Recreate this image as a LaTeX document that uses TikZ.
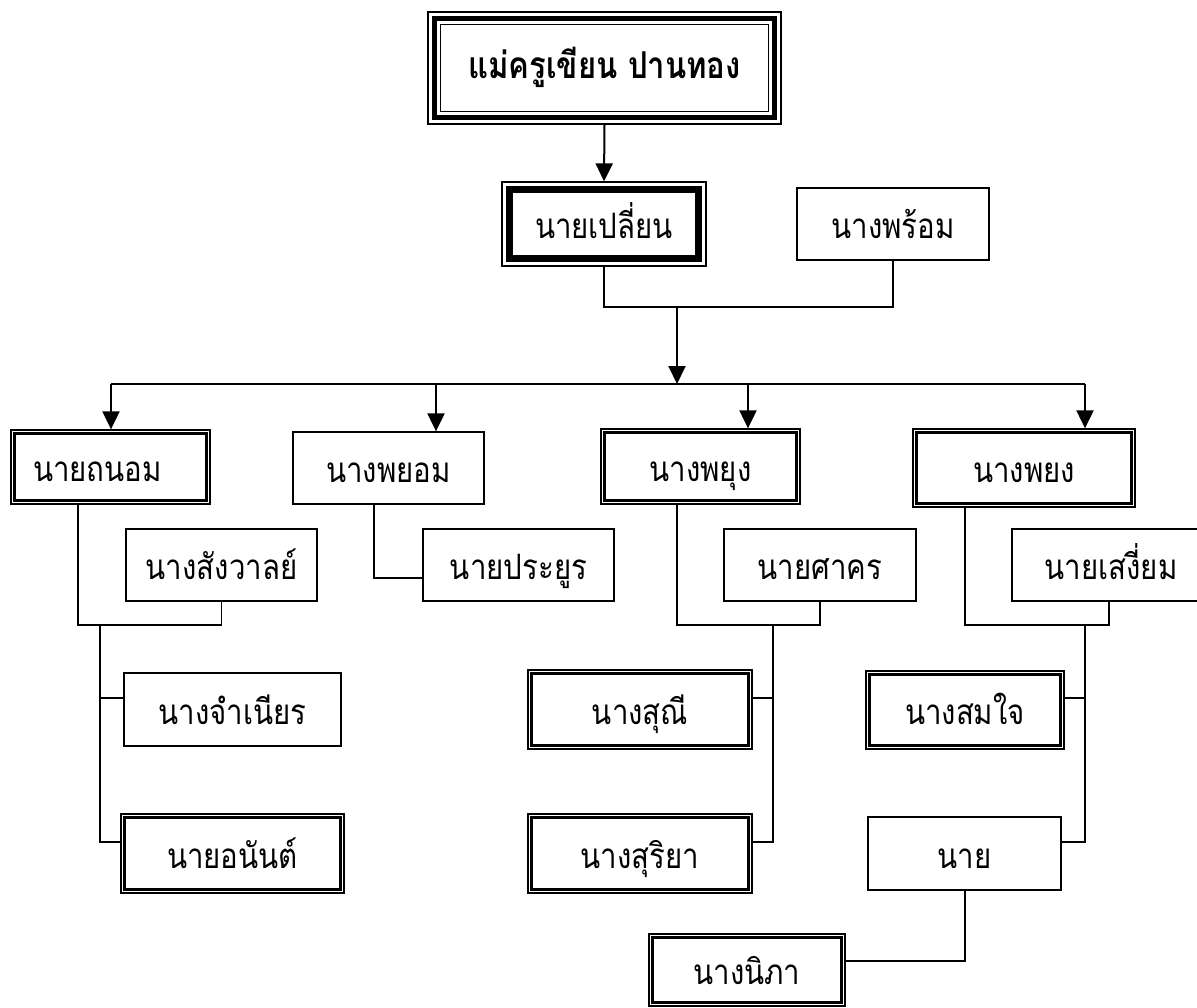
\documentclass[tikz,border=0pt]{standalone}
\usepackage{fontspec}
\usetikzlibrary{arrows.meta}
\newfontfamily\thaifont[Script=Thai,FakeStretch=0.84]{Loma}
\newcommand\thaiF{\thaifont\fontsize{35}{41}\selectfont}
\newcommand\thaiT{\thaifont\fontsize{37}{44}\selectfont\bfseries}
\begin{document}
\begin{tikzpicture}[x=1pt,y=-1pt,
  box/.style={draw, line width=1.3pt, inner sep=0pt, font=\thaiF, text height=29pt, text depth=0pt},
  inbox/.style={line width=2.8pt},
  arr/.style={line width=2pt, -{Triangle[length=18pt,width=17pt]}},
  conn/.style={line width=1.4pt}]
\useasboundingbox (0,0) rectangle (1197,1008);
% nodes
\node[box, minimum width=353pt, minimum height=112pt, font=\thaiT, text height=22pt] (top) at (604.5,68) {แม่ครูเขียน ปานทอง};
\node[box, minimum width=204pt, minimum height=84pt] (plian) at (604,224) {นายเปลี่ยน};
\node[box, minimum width=192pt, minimum height=72pt] (phrom) at (893,224) {นางพร้อม};
\node[box, minimum width=199pt, minimum height=74pt] (thanom) at (110.5,467) {\hspace*{-26pt}นายถนอม};
\node[box, minimum width=191pt, minimum height=72pt] (phayom) at (388.5,468) {นางพยอม};
\node[box, minimum width=199pt, minimum height=75pt] (phayung) at (700.5,466.5) {นางพยุง};
\node[box, minimum width=222pt, minimum height=78pt] (phayong) at (1024,468) {นางพยง};
\node[box, minimum width=191pt, minimum height=72pt] (sangwan) at (221.5,565) {นางสังวาลย์};
\node[box, minimum width=191pt, minimum height=72pt] (prayoon) at (518.5,565) {นายประยูร};
\node[box, minimum width=192pt, minimum height=72pt] (sakhon) at (820,565) {นายศาคร};
\node[box, minimum width=198pt, minimum height=72pt] (sangiam) at (1111,565) {นายเสงี่ยม};
\node[box, minimum width=217pt, minimum height=73pt] (chamnian) at (232.5,709.5) {นางจำเนียร};
\node[box, minimum width=223pt, minimum height=79pt] (anan) at (232.5,853.5) {นายอนันต์};
\node[box, minimum width=224pt, minimum height=79pt] (sunee) at (640,709.5) {นางสุณี};
\node[box, minimum width=224pt, minimum height=79pt] (suriya) at (640,853.5) {นางสุริยา};
\node[box, minimum width=198pt, minimum height=78pt] (somjai) at (965,710) {นางสมใจ};
\node[box, minimum width=193pt, minimum height=73pt] (nai) at (964.5,853.5) {นาย};
\node[box, minimum width=196pt, minimum height=72pt] (nipa) at (747,970) {นางนิภา};
% inner frames
\foreach \n in {thanom,phayung,phayong,anan,sunee,suriya,somjai,nipa}
  \draw[inbox] ([xshift=4.5pt,yshift=-4.5pt]\n.north west) rectangle ([xshift=-4.5pt,yshift=4.5pt]\n.south east);
\draw[line width=5pt] ([xshift=7pt,yshift=-7pt]top.north west) rectangle ([xshift=-7pt,yshift=7pt]top.south east);
\draw[line width=1.3pt] ([xshift=13pt,yshift=-13pt]top.north west) rectangle ([xshift=-13pt,yshift=13pt]top.south east);
\draw[line width=7pt] ([xshift=8.5pt,yshift=-8.5pt]plian.north west) rectangle ([xshift=-8.5pt,yshift=8.5pt]plian.south east);
% connectors
\draw[arr] (top.south) -- (plian.north);
\coordinate (pj) at (677,307);
\draw[conn] (plian.south) |- (pj) -| (phrom.south);
\coordinate (busA) at (111,384);
\coordinate (busB) at (436,384);
\coordinate (busC) at (748,384);
\coordinate (busD) at (1085,384);
\draw[arr] (pj) -- (pj |- busA);
\draw[conn] (busA) -- (busD);
\draw[arr] (busA) -- (busA |- thanom.north);
\draw[arr] (busB) -- (busB |- phayom.north);
\draw[arr] (busC) -- (busC |- phayung.north);
\draw[arr] (busD) -- (busD |- phayong.north);
% left family
\coordinate (t1) at (78,625);
\coordinate (t2) at (100,625);
\draw[conn] (t1 |- thanom.south) -- (t1) -| (sangwan.south);
\draw[conn] (t2) |- (chamnian.west |- 0,698);
\draw[conn] (t2) |- (anan.west |- 0,842);
% phayom
\coordinate (p1) at (374,578);
\draw[conn] (p1 |- phayom.south) -- (p1) -- (p1 -| prayoon.west);
% phayung
\coordinate (u1) at (677,625);
\coordinate (u2) at (773,625);
\draw[conn] (u1 |- phayung.south) -- (u1) -| (sakhon.south);
\draw[conn] (u2) |- (sunee.east |- 0,698);
\draw[conn] (u2) |- (suriya.east |- 0,842);
% phayong
\coordinate (g1) at (965,625);
\coordinate (g2) at (1085,625);
\draw[conn] (g1 |- phayong.south) -- (g1) -| (sangiam.south -| 1109,0);
\draw[conn] (g2) |- (somjai.east |- 0,698);
\draw[conn] (g2) |- (nai.east |- 0,842);
% nai
\coordinate (n1) at (965,961);
\draw[conn] (nai.south -| n1) -- (n1) -- (n1 -| nipa.east);
\end{tikzpicture}
\end{document}
